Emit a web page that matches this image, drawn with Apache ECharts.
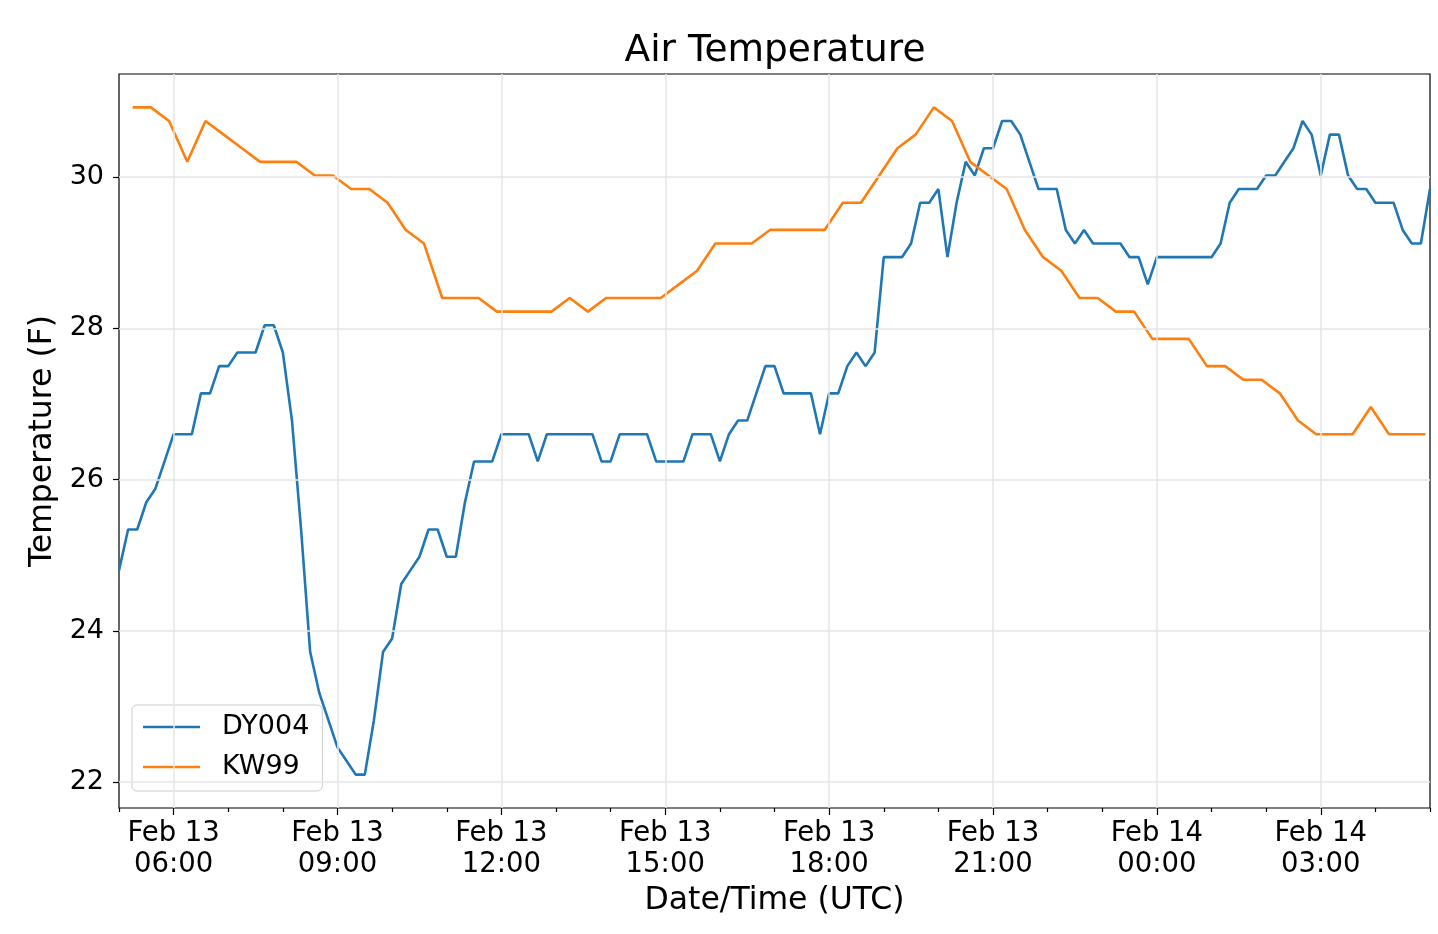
<!DOCTYPE html>
<html><head><meta charset="utf-8">
<script src="https://cdn.jsdelivr.net/npm/echarts@6/dist/echarts.min.js"></script>
<style>html,body{margin:0;padding:0;background:#fff}#c{width:1438px;height:934px}</style>
</head><body><div id="c"></div>
<script>
// x values are hours since Feb 13 00:00 UTC
const dyStartHour = 5;        // Feb 13 05:00 UTC
const dyStepHour = 1 / 6;     // 10-minute observations
const dy004 = [
  24.8, 25.34, 25.34, 25.7, 25.88, 26.24, 26.6, 26.6, 26.6, 27.14, 27.14, 27.5, 27.5,
  27.68, 27.68, 27.68, 28.04, 28.04, 27.68, 26.78, 25.34, 23.72, 23.18, 22.82, 22.46,
  22.28, 22.1, 22.1, 22.82, 23.72, 23.9, 24.62, 24.8, 24.98, 25.34, 25.34, 24.98,
  24.98, 25.7, 26.24, 26.24, 26.24, 26.6, 26.6, 26.6, 26.6, 26.24, 26.6, 26.6,
  26.6, 26.6, 26.6, 26.6, 26.24, 26.24, 26.6, 26.6, 26.6, 26.6, 26.24, 26.24, 26.24,
  26.24, 26.6, 26.6, 26.6, 26.24, 26.6, 26.78, 26.78, 27.14, 27.5, 27.5, 27.14,
  27.14, 27.14, 27.14, 26.6, 27.14, 27.14, 27.5, 27.68, 27.5, 27.68, 28.94, 28.94,
  28.94, 29.12, 29.66, 29.66, 29.84, 28.94, 29.66, 30.2, 30.02, 30.38, 30.38, 30.74,
  30.74, 30.56, 30.2, 29.84, 29.84, 29.84, 29.3, 29.12, 29.3, 29.12, 29.12, 29.12,
  29.12, 28.94, 28.94, 28.58, 28.94, 28.94, 28.94, 28.94, 28.94, 28.94, 28.94, 29.12,
  29.66, 29.84, 29.84, 29.84, 30.02, 30.02, 30.2, 30.38, 30.74, 30.56, 30.02, 30.56,
  30.56, 30.02, 29.84, 29.84, 29.66, 29.66, 29.66, 29.3, 29.12, 29.12, 29.84
];
const kwStartHour = 5.25;     // Feb 13 05:15 UTC
const kwStepHour = 1 / 3;     // 20-minute observations
const kw99 = [
  30.92, 30.92, 30.74, 30.2, 30.74, 30.56, 30.38, 30.2, 30.2, 30.2, 30.02, 30.02,
  29.84, 29.84, 29.66, 29.3, 29.12, 28.4, 28.4, 28.4, 28.22, 28.22, 28.22, 28.22,
  28.4, 28.22, 28.4, 28.4, 28.4, 28.4, 28.58, 28.76, 29.12, 29.12, 29.12, 29.3,
  29.3, 29.3, 29.3, 29.66, 29.66, 30.02, 30.38, 30.56, 30.92, 30.74, 30.2, 30.02,
  29.84, 29.3, 28.94, 28.76, 28.4, 28.4, 28.22, 28.22, 27.86, 27.86, 27.86, 27.5,
  27.5, 27.32, 27.32, 27.14, 26.78, 26.6, 26.6, 26.6, 26.96, 26.6, 26.6, 26.6
];
const xTickHours = [6, 9, 12, 15, 18, 21, 24, 27];
const xTickLabels = ['Feb 13\n06:00', 'Feb 13\n09:00', 'Feb 13\n12:00', 'Feb 13\n15:00',
  'Feb 13\n18:00', 'Feb 13\n21:00', 'Feb 14\n00:00', 'Feb 14\n03:00'];
const xMinorHours = [5, 7, 8, 10, 11, 13, 14, 16, 17, 19, 20, 22, 23, 25, 26, 28, 29];
const yTicks = [22, 24, 26, 28, 30];
const yTickLabels = ['22', '24', '26', '28', '30'];

const FONT = '"DejaVu Sans", sans-serif';
const chart = echarts.init(document.getElementById('c'), null, {renderer: 'canvas'});
const tickStyle = {color: '#000', width: 1.2};
const LW = 2.6;

chart.setOption({
  animation: false,
  backgroundColor: '#fff',
  textStyle: {fontFamily: FONT},
  graphic: [{
    type: 'text', x: 775, y: 51,
    style: {text: 'Air Temperature', fontSize: 37.5, fontFamily: FONT, fill: '#000',
            align: 'center', verticalAlign: 'middle'}
  }],
  grid: {left: 119, right: 8, top: 74, bottom: 126, show: true, borderColor: '#000',
         borderWidth: 1.2, backgroundColor: '#fff', containLabel: false, outerBoundsMode: 'none'},
  legend: {
    data: [{name: 'DY004', icon: 'rect'}, {name: 'KW99', icon: 'rect'}],
    orient: 'vertical', left: 132, top: 705,
    padding: [7, 13, 9, 11], itemWidth: 57, itemHeight: LW, itemGap: 10,
    borderColor: '#cccccc', borderWidth: 1, borderRadius: 5, backgroundColor: '#fff',
    textStyle: {fontSize: 27, fontFamily: FONT, color: '#000', lineHeight: 30, padding: [0, 0, 0, 17]}
  },
  xAxis: [{
    type: 'value', min: 5, max: 29, position: 'bottom',
    axisLine: {show: false}, splitLine: {show: false},
    axisTick: {show: true, customValues: xTickHours, length: 7, lineStyle: tickStyle},
    axisLabel: {customValues: xTickHours, fontSize: 27.5, lineHeight: 31, margin: 10, color: '#000',
                fontFamily: FONT,
                formatter: v => xTickLabels[xTickHours.indexOf(Math.round(v))] || ''},
    name: 'Date/Time (UTC)', nameLocation: 'middle', nameGap: 73,
    nameTextStyle: {fontSize: 31.5, color: '#000', fontFamily: FONT}
  }, {
    type: 'value', min: 5, max: 29, position: 'bottom', gridIndex: 0,
    axisLine: {show: false}, splitLine: {show: false}, axisLabel: {show: false},
    axisTick: {show: true, customValues: xMinorHours, length: 4, lineStyle: tickStyle}
  }],
  yAxis: [{
    type: 'value', min: 21.659, max: 31.361,
    axisLine: {show: false}, splitLine: {show: false},
    axisTick: {show: true, customValues: yTicks, length: 6, lineStyle: tickStyle},
    axisLabel: {customValues: yTicks, fontSize: 27, margin: 15, color: '#000', fontFamily: FONT,
                formatter: v => yTickLabels[yTicks.indexOf(Math.round(v))] || ''},
    name: 'Temperature (F)', nameLocation: 'middle', nameGap: 57, nameRotate: 90,
    nameTextStyle: {fontSize: 31.5, color: '#000', fontFamily: FONT}
  }],
  series: [{
    name: '_grid', type: 'line', data: [], z: 1, silent: true,
    markLine: {
      silent: true, symbol: ['none', 'none'], label: {show: false}, animation: false,
      lineStyle: {color: '#e6e6e6', width: 1.5, type: 'solid'},
      data: xTickHours.map(h => ({xAxis: h})).concat(yTicks.map(v => ({yAxis: v})))
    }
  }, {
    name: 'DY004', type: 'line', z: 3, symbol: 'none', showSymbol: false,
    data: dy004.map((v, i) => [dyStartHour + i * dyStepHour, v]),
    lineStyle: {color: '#1f77b4', width: LW}, itemStyle: {color: '#1f77b4'}
  }, {
    name: 'KW99', type: 'line', z: 3, symbol: 'none', showSymbol: false,
    data: kw99.map((v, i) => [kwStartHour + i * kwStepHour, v]),
    lineStyle: {color: '#ff7f0e', width: LW}, itemStyle: {color: '#ff7f0e'}
  }]
});
</script>
</body></html>
